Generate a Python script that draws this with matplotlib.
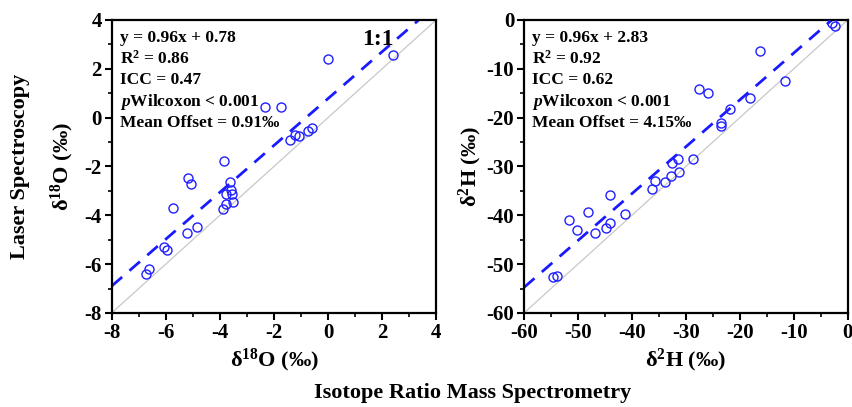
import matplotlib
matplotlib.use('Agg')
import matplotlib.pyplot as plt
import numpy as np
from matplotlib.ticker import MultipleLocator

plt.rcParams['font.family'] = ['Liberation Serif', 'DejaVu Serif']
plt.rcParams['font.weight'] = 'bold'
plt.rcParams['axes.unicode_minus'] = False
plt.rcParams['mathtext.fontset'] = 'custom'
plt.rcParams['mathtext.rm'] = 'Liberation Serif:bold'
plt.rcParams['mathtext.bf'] = 'Liberation Serif:bold'
plt.rcParams['mathtext.it'] = 'Liberation Serif:italic:bold'

# d18O: IRMS (x) vs laser (y)
o_irms = [2.39, 0.0, -2.32, -1.73, -0.60, -0.74, -1.09, -1.21, -1.42, -3.83, -5.17, -5.08, -3.63,
          -3.60, -3.76, -3.55, -3.51, -3.76, -3.89, -5.73, -4.83, -5.20, -6.07, -5.96, -6.63, -6.73]
o_laser = [2.57, 2.40, 0.45, 0.45, -0.41, -0.54, -0.75, -0.71, -0.92, -1.77, -2.49, -2.72, -2.63,
           -2.97, -3.13, -3.14, -3.46, -3.54, -3.75, -3.72, -4.47, -4.73, -5.28, -5.44, -6.18, -6.42]

# d2H: IRMS (x) vs laser (y)
h_irms = [-2.4, -3.0, -16.2, -11.7, -27.6, -25.9, -18.2, -21.9, -23.5, -23.5, -28.6, -31.5, -32.6, -31.2,
          -32.7, -33.8, -35.8, -36.3, -44.1, -41.2, -48.1, -51.7, -44.1, -44.8, -46.8, -50.2, -53.9, -54.7]
h_laser = [-1.2, -0.7, -6.4, -12.6, -14.1, -15.0, -16.0, -18.2, -21.0, -21.7, -28.5, -28.5, -29.2, -31.1,
           -31.9, -33.2, -32.9, -34.7, -35.8, -39.8, -39.3, -41.0, -41.5, -42.7, -43.6, -43.1, -52.4, -52.7]

o_fit = (0.96, 0.78)
h_fit = (0.96, 2.83)
o_stats = ['y = 0.96x + 0.78', 'R$^2$ = 0.86', 'ICC = 0.47', r'$\it{p}$Wilcoxon < 0.001', 'Mean Offset = 0.91‰']
h_stats = ['y = 0.96x + 2.83', 'R$^2$ = 0.92', 'ICC = 0.62', r'$\it{p}$Wilcoxon < 0.001', 'Mean Offset = 4.15‰']

fig = plt.figure(figsize=(8.52, 4.07), dpi=100)
ax1 = fig.add_axes([0.131, 0.231, 0.381, 0.720])
ax2 = fig.add_axes([0.615, 0.231, 0.380, 0.720])


def panel(ax, xs, ys, fit, stats, lim, major, minor, label, ypad):
    lo, hi = lim
    ax.plot([lo, hi], [lo, hi], color='#c8c8c8', lw=0.9, zorder=1)
    xx = np.array([lo, hi])
    ax.plot(xx, fit[0] * xx + fit[1], color='#1a1aff', lw=2, ls=(0, (5, 3.5)), zorder=2)
    ax.plot(xs, ys, 'o', mfc='none', mec='#2020ff', ms=6.5, mew=1.0, zorder=3)
    ax.set_xlim(lo, hi)
    ax.set_ylim(lo, hi)
    ax.xaxis.set_major_locator(MultipleLocator(major))
    ax.yaxis.set_major_locator(MultipleLocator(major))
    ax.xaxis.set_minor_locator(MultipleLocator(minor))
    ax.yaxis.set_minor_locator(MultipleLocator(minor))
    ax.tick_params(which='major', direction='out', length=5, width=1.5, labelsize=15, pad=2)
    ax.tick_params(which='minor', direction='out', length=3, width=1.2)
    for s in ax.spines.values():
        s.set_linewidth(1.6)
    for t in ax.get_xticklabels() + ax.get_yticklabels():
        t.set_fontweight('bold')
    ax.set_xlabel(label, fontsize=16, fontweight='bold', labelpad=3)
    ax.set_ylabel(label, fontsize=16, fontweight='bold', labelpad=ypad)
    for i, s in enumerate(stats):
        ax.text(0.025, 0.94 - i * 0.073, s, transform=ax.transAxes, fontsize=12.5,
                fontweight='bold', va='center', ha='left')


panel(ax1, o_irms, o_laser, o_fit, o_stats, (-8, 4), 2, 1, 'δ$^{18}$O (‰)', 6)
panel(ax2, h_irms, h_laser, h_fit, h_stats, (-60, 0), 10, 5, 'δ$^2$H (‰)', 2)

ax1.text(1.86, 3.18, '1:1', fontsize=17, fontweight='bold', ha='center', va='center')

fig.text(0.024, 0.592, 'Laser Spectroscopy', rotation=90, fontsize=16, fontweight='bold',
         ha='center', va='center')
fig.text(0.555, 0.035, 'Isotope Ratio Mass Spectrometry', fontsize=16, fontweight='bold',
         ha='center', va='center')

fig.savefig('out.png', dpi=100)
